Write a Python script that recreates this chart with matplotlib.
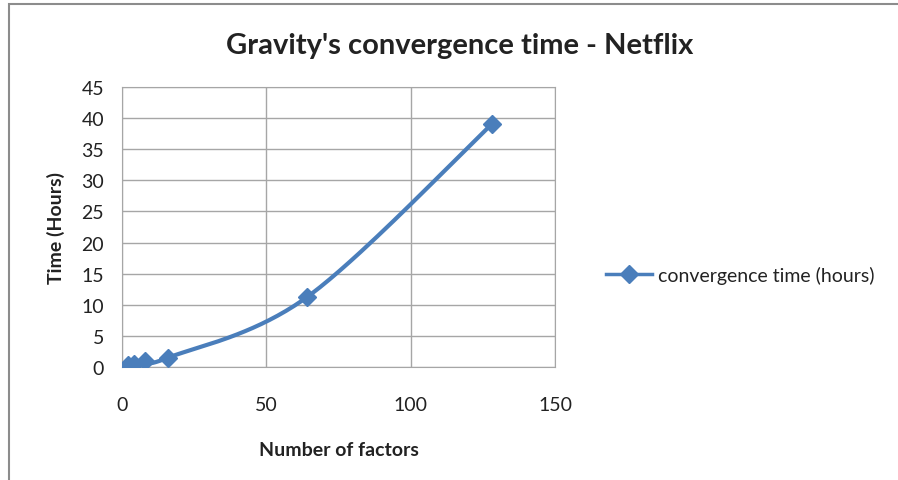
import matplotlib.pyplot as plt
import numpy as np
from matplotlib.patches import Rectangle

# data
factors = [2, 4, 8, 16, 64, 128]
hours = [0.3, 0.5, 0.9, 1.5, 11.2, 39.0]

title = "Gravity's convergence time - Netflix"
series_name = "convergence time (hours)"
x_ticks = [0, 50, 100, 150]
y_ticks = [0, 5, 10, 15, 20, 25, 30, 35, 40, 45]

blue = '#4a7ebb'
grid_col = '#a6a6a6'

plt.rcParams['font.family'] = ['Lato', 'DejaVu Sans']


def smooth(xs, ys, n=40):
    # Excel-style smoothed line: cardinal spline through the points
    xs = np.asarray(xs, float)
    ys = np.asarray(ys, float)
    px = np.concatenate([[xs[0]], xs, [xs[-1]]])
    py = np.concatenate([[ys[0]], ys, [ys[-1]]])
    outx, outy = [], []
    t = np.linspace(0, 1, n)
    for i in range(1, len(px) - 2):
        p0 = np.array([px[i], py[i]])
        p3 = np.array([px[i + 1], py[i + 1]])
        p1 = p0 + (np.array([px[i + 1], py[i + 1]]) - np.array([px[i - 1], py[i - 1]])) / 6
        p2 = p3 - (np.array([px[i + 2], py[i + 2]]) - np.array([px[i], py[i]])) / 6
        b = ((1 - t) ** 3)[:, None] * p0 + (3 * (1 - t) ** 2 * t)[:, None] * p1 \
            + (3 * (1 - t) * t ** 2)[:, None] * p2 + (t ** 3)[:, None] * p3
        outx.extend(b[:, 0])
        outy.extend(b[:, 1])
    return outx, outy


fig = plt.figure(figsize=(8.98, 4.81), dpi=100)
fig.patches.append(Rectangle((0.0095, -0.01), 1.2, 1.0, transform=fig.transFigure,
                             fill=False, edgecolor='#8c8c8c', linewidth=1.5))

ax = fig.add_axes([0.1359, 0.235, 0.4822, 0.582])
sx, sy = smooth(factors, hours)
ax.plot(sx, sy, color=blue, linewidth=3, solid_capstyle='round', zorder=3)
ax.plot(factors, hours, linestyle='none', marker='D', markersize=9,
        color=blue, zorder=4)
line_proxy, = ax.plot([], [], color=blue, linewidth=2.5, marker='D', markersize=9)

ax.set_xlim(0, 150)
ax.set_ylim(0, 45)
ax.set_xticks(x_ticks)
ax.set_yticks(y_ticks)
ax.grid(True, color=grid_col, linewidth=1)
ax.set_axisbelow(True)
for s in ax.spines.values():
    s.set_color(grid_col)
ax.tick_params(length=0, labelsize=14, colors='#222222')
ax.tick_params(axis='x', pad=21, labelcolor='#222222')
ax.tick_params(axis='y', pad=13, labelcolor='#222222')

ax.set_xlabel("Number of factors", fontsize=14, fontweight='bold', labelpad=20,
              color='#222222')
ax.set_ylabel("Time (Hours)", fontsize=14, fontweight='bold', labelpad=12,
              color='#222222')
fig.text(0.512, 0.905, title, ha='center', va='center', fontsize=21,
         fontweight='bold', color='#222222')

fig.legend([line_proxy], [series_name], loc='center left',
           bbox_to_anchor=(0.655, 0.427), frameon=False, fontsize=14,
           handlelength=2.4, handletextpad=0.3, labelcolor='#222222')

fig.savefig('out.png', dpi=100)
